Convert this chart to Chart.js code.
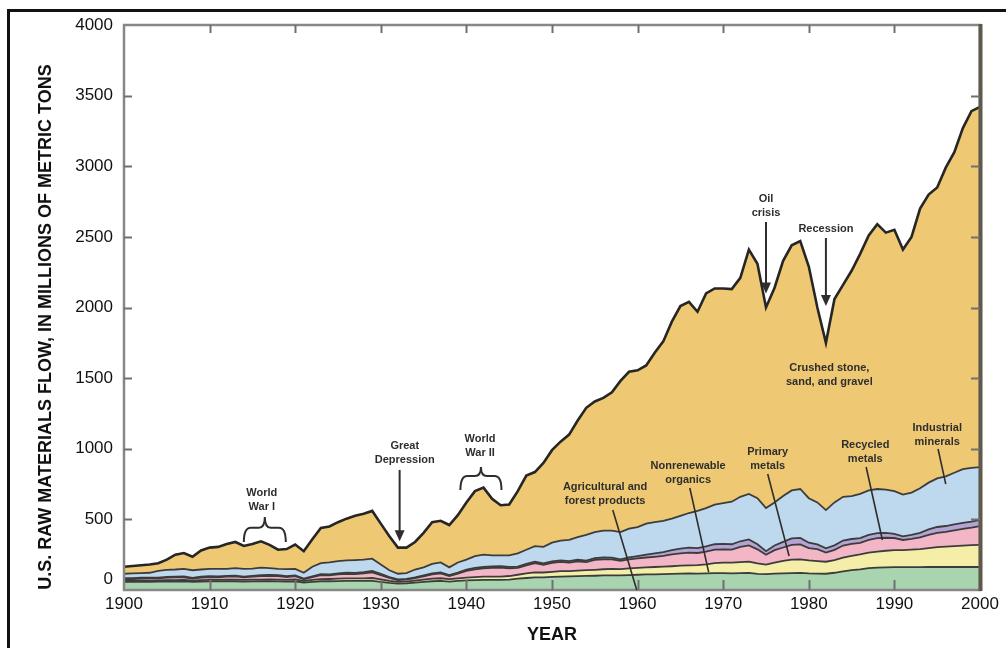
<!DOCTYPE html>
<html>
<head>
<meta charset="utf-8">
<title>U.S. raw materials flow, 1900-2000</title>
<script src="https://cdn.jsdelivr.net/npm/chart.js@4.4.1/dist/chart.umd.min.js"></script>
<style>
  html, body { margin: 0; padding: 0; background: #ffffff; }
  canvas { display: block; }
</style>
</head>
<body>
<canvas id="flowChart" width="1006" height="648"></canvas>
<script>
// Years on the x axis (one point per year)
const years = [
    1900, 1901, 1902, 1903, 1904, 1905, 1906, 1907, 1908, 1909,
    1910, 1911, 1912, 1913, 1914, 1915, 1916, 1917, 1918, 1919,
    1920, 1921, 1922, 1923, 1924, 1925, 1926, 1927, 1928, 1929,
    1930, 1931, 1932, 1933, 1934, 1935, 1936, 1937, 1938, 1939,
    1940, 1941, 1942, 1943, 1944, 1945, 1946, 1947, 1948, 1949,
    1950, 1951, 1952, 1953, 1954, 1955, 1956, 1957, 1958, 1959,
    1960, 1961, 1962, 1963, 1964, 1965, 1966, 1967, 1968, 1969,
    1970, 1971, 1972, 1973, 1974, 1975, 1976, 1977, 1978, 1979,
    1980, 1981, 1982, 1983, 1984, 1985, 1986, 1987, 1988, 1989,
    1990, 1991, 1992, 1993, 1994, 1995, 1996, 1997, 1998, 1999,
    2000,
];

// Millions of metric tons, stacked from the bottom up
const agricultural = [
    57, 57, 58, 58, 59, 60, 60, 61, 58, 60,
    61, 61, 62, 62, 60, 61, 62, 62, 61, 60,
    62, 52, 58, 62, 62, 63, 64, 64, 64, 65,
    58, 50, 45, 47, 52, 57, 62, 64, 60, 64,
    68, 70, 72, 72, 72, 74, 80, 85, 90, 90,
    93, 95, 96, 98, 100, 101, 103, 104, 103, 106,
    108, 110, 111, 112, 114, 116, 118, 116, 118, 120,
    120, 118, 120, 121, 114, 112, 116, 118, 120, 121,
    117, 116, 115, 122, 132, 140, 146, 155, 158, 160,
    162, 162, 162, 162, 163, 163, 163, 163, 163, 163,
    163,
];
const nonrenewable = [
    8, 8, 8, 9, 9, 9, 10, 10, 9, 10,
    11, 11, 11, 12, 11, 12, 12, 13, 13, 12,
    13, 11, 13, 15, 16, 17, 18, 18, 19, 20,
    18, 15, 13, 13, 14, 16, 18, 19, 17, 19,
    20, 21, 22, 22, 23, 25, 28, 32, 35, 34,
    36, 38, 38, 39, 40, 42, 44, 45, 45, 47,
    48, 50, 52, 53, 54, 56, 57, 60, 64, 70,
    74, 76, 78, 80, 74, 68, 78, 88, 95, 96,
    92, 88, 85, 90, 98, 102, 106, 110, 114, 118,
    120, 121, 124, 128, 134, 140, 144, 147, 151, 154,
    156,
];
const primaryMetals = [
    13, 13, 15, 15, 14, 18, 19, 19, 14, 18,
    20, 18, 21, 22, 18, 21, 25, 26, 25, 20,
    23, 12, 20, 28, 26, 30, 32, 31, 35, 40,
    30, 20, 12, 14, 18, 24, 30, 34, 22, 32,
    47, 55, 60, 63, 63, 55, 48, 58, 65, 55,
    63, 66, 60, 66, 58, 70, 70, 68, 58, 64,
    68, 70, 72, 76, 84, 88, 90, 86, 90, 96,
    94, 92, 107, 115, 100, 70, 88, 95, 105, 106,
    88, 85, 65, 72, 85, 84, 82, 90, 95, 92,
    86, 71, 76, 82, 94, 101, 104, 112, 118, 124,
    134,
];
const recycledMetals = [
    6, 6, 6, 6, 6, 6, 6, 6, 5, 6,
    6, 6, 6, 6, 5, 6, 6, 6, 6, 6,
    6, 5, 6, 7, 7, 8, 8, 8, 9, 10,
    8, 6, 5, 5, 6, 7, 8, 8, 7, 8,
    10, 10, 10, 10, 10, 10, 10, 10, 10, 10,
    10, 11, 10, 11, 10, 12, 13, 12, 11, 14,
    16, 20, 24, 27, 30, 33, 35, 34, 36, 38,
    38, 38, 40, 42, 36, 25, 33, 40, 45, 46,
    38, 34, 30, 32, 35, 35, 34, 35, 36, 34,
    30, 26, 28, 32, 38, 42, 42, 42, 43, 43,
    43,
];
const industrialMinerals = [
    31, 34, 33, 34, 47, 49, 50, 54, 54, 51,
    52, 54, 50, 53, 56, 52, 53, 48, 45, 50,
    46, 42, 68, 78, 84, 87, 88, 91, 88, 87,
    66, 49, 40, 41, 55, 56, 67, 70, 54, 72,
    70, 84, 86, 78, 77, 81, 94, 100, 110, 116,
    133, 140, 151, 161, 182, 185, 190, 191, 193, 204,
    205, 220, 221, 222, 223, 232, 245, 264, 272, 281,
    289, 301, 315, 322, 326, 305, 305, 324, 340, 346,
    315, 297, 271, 304, 310, 304, 312, 315, 312, 306,
    302, 295, 300, 316, 331, 344, 352, 366, 380, 381,
    374,
];
const crushedStone = [
    50, 52, 55, 58, 55, 73, 105, 112, 95, 135,
    150, 155, 175, 185, 162, 173, 187, 165, 135, 142,
    172, 153, 195, 250, 255, 275, 295, 313, 325, 338,
    290, 240, 185, 180, 195, 245, 295, 295, 300, 335,
    405, 460, 475, 400, 355, 360, 440, 525, 525, 595,
    655, 700, 745, 825, 900, 925, 940, 980, 1070, 1110,
    1110, 1120, 1200, 1270, 1395, 1485, 1495, 1410, 1520, 1530,
    1520, 1505, 1550, 1730, 1660, 1420, 1520, 1665, 1735, 1755,
    1640, 1380, 1184, 1440, 1500, 1595, 1700, 1805, 1875, 1820,
    1850, 1735, 1810, 1980, 2040, 2060, 2185, 2270, 2415, 2525,
    2550,
];

// Tick labels
const yearTicks = [1900, 1910, 1920, 1930, 1940, 1950, 1960, 1970, 1980, 1990, 2000];
const tonTicks = [0, 500, 1000, 1500, 2000, 2500, 3000, 3500, 4000];

const TICK_FONT = { family: '"Liberation Sans", Arial, sans-serif', size: 17 };
const NOTE_FONT = 'bold 11px "Liberation Sans", Arial, sans-serif';
const TITLE_FONT = 'bold 18px "Liberation Sans", Arial, sans-serif';
const INK = '#2e2e2e';

// Call-outs, placed in data units (year, value)
const labelNotes = [
    { year: 1916.1, value: 687, lines: ['World', 'War I'] },
    { year: 1932.8, value: 1019, lines: ['Great', 'Depression'] },
    { year: 1941.6, value: 1069, lines: ['World', 'War II'] },
    { year: 1956.2, value: 729, lines: ['Agricultural and', 'forest products'] },
    { year: 1965.9, value: 878, lines: ['Nonrenewable', 'organics'] },
    { year: 1975.2, value: 977, lines: ['Primary', 'metals'] },
    { year: 1986.6, value: 1027, lines: ['Recycled', 'metals'] },
    { year: 1995.0, value: 1147, lines: ['Industrial', 'minerals'] },
    { year: 1975.0, value: 2768, lines: ['Oil', 'crisis'] },
    { year: 1982.0, value: 2556, lines: ['Recession'] },
    { year: 1982.4, value: 1572, lines: ['Crushed stone,', 'sand, and gravel'] },
];
const leaderLines = [
    { from: [1957.1, 566], to: [1959.9, 0] },
    { from: [1966.1, 722], to: [1968.3, 127] },
    { from: [1975.2, 821], to: [1977.7, 241] },
    { from: [1986.7, 871], to: [1988.6, 354] },
    { from: [1995.1, 998], to: [1996.0, 750] },
];
const arrows = [
    { year: 1932.2, from: 850, to: 345 },
    { year: 1975.0, from: 2605, to: 2100 },
    { year: 1982.0, from: 2492, to: 2010 },
];
const braces = [
    { left: 1914.0, right: 1918.9, end: 340, mid: 440, tip: 517 },
    { left: 1939.3, right: 1944.1, end: 708, mid: 807, tip: 871 },
];

function layer(label, data, color, fill, width) {
    return {
        label,
        data,
        backgroundColor: color,
        borderColor: width > 2 ? '#262626' : '#3c3c3c',
        borderWidth: width,
        fill,
        pointRadius: 0,
        tension: 0,
    };
}

const annotationPlugin = {
    id: 'flowAnnotations',
    afterDraw(chart) {
        const { ctx, chartArea: area, scales } = chart;
        const xs = scales.x;
        const ys = scales.y;
        const px = (year) => xs.getPixelForValue(year - years[0]);
        const py = (value) => ys.getPixelForValue(value);

        ctx.save();

        // plot box
        ctx.strokeStyle = '#878787';
        ctx.lineWidth = 2.5;
        ctx.strokeRect(area.left, area.top, area.right - area.left, area.bottom - area.top);
        ctx.strokeStyle = '#5f584c';
        ctx.lineWidth = 4;
        ctx.beginPath();
        ctx.moveTo(area.right + 0.5, area.top - 1);
        ctx.lineTo(area.right + 0.5, area.bottom + 1);
        ctx.stroke();

        // inner tick marks
        ctx.strokeStyle = '#707070';
        ctx.lineWidth = 2;
        ctx.beginPath();
        tonTicks.slice(1, -1).forEach((v) => {
            const y = Math.round(py(v)) + 0.5;
            ctx.moveTo(area.left, y);
            ctx.lineTo(area.left + 8, y);
            ctx.moveTo(area.right - 9, y);
            ctx.lineTo(area.right, y);
        });
        yearTicks.slice(1, -1).forEach((yr) => {
            const x = Math.round(px(yr)) + 0.5;
            ctx.moveTo(x, area.top);
            ctx.lineTo(x, area.top + 8);
            ctx.moveTo(x, area.bottom);
            ctx.lineTo(x, area.bottom - 10);
        });
        ctx.stroke();

        // the zero label sits a little above the axis
        ctx.fillStyle = '#111';
        ctx.font = `${TICK_FONT.size}px ${TICK_FONT.family}`;
        ctx.textAlign = 'right';
        ctx.textBaseline = 'middle';
        ctx.fillText(String(tonTicks[0]), area.left - 11, py(tonTicks[0]) - 11);

        // axis titles
        ctx.font = TITLE_FONT;
        ctx.textAlign = 'center';
        ctx.fillText('YEAR', (area.left + area.right) / 2, 635);
        ctx.save();
        ctx.translate(46, 327);
        ctx.rotate(-Math.PI / 2);
        ctx.fillText('U.S. RAW MATERIALS FLOW, IN MILLIONS OF METRIC TONS', 0, 0);
        ctx.restore();

        // call-out text
        ctx.fillStyle = INK;
        ctx.font = NOTE_FONT;
        labelNotes.forEach((note) => {
            note.lines.forEach((line, i) => {
                ctx.fillText(line, px(note.year), py(note.value) + i * 14);
            });
        });

        ctx.strokeStyle = INK;
        ctx.lineWidth = 1.6;
        ctx.beginPath();
        leaderLines.forEach((l) => {
            ctx.moveTo(px(l.from[0]), py(l.from[1]));
            ctx.lineTo(px(l.to[0]), py(l.to[1]));
        });
        ctx.stroke();

        // arrows
        ctx.lineWidth = 2;
        arrows.forEach((a) => {
            const x = px(a.year);
            const y1 = py(a.from);
            const y2 = py(a.to);
            ctx.beginPath();
            ctx.moveTo(x, y1);
            ctx.lineTo(x, y2 - 9);
            ctx.stroke();
            ctx.beginPath();
            ctx.moveTo(x - 5, y2 - 11);
            ctx.lineTo(x + 5, y2 - 11);
            ctx.lineTo(x, y2);
            ctx.closePath();
            ctx.fill();
        });

        // braces
        ctx.lineWidth = 2;
        braces.forEach((b) => {
            const l = px(b.left);
            const r = px(b.right);
            const c = (l + r) / 2;
            const yEnd = py(b.end);
            const yMid = py(b.mid);
            const yTip = py(b.tip);
            ctx.beginPath();
            ctx.moveTo(l, yEnd);
            ctx.quadraticCurveTo(l, yMid, l + 7, yMid);
            ctx.lineTo(c - 6, yMid);
            ctx.quadraticCurveTo(c, yMid, c, yTip);
            ctx.moveTo(r, yEnd);
            ctx.quadraticCurveTo(r, yMid, r - 7, yMid);
            ctx.lineTo(c + 6, yMid);
            ctx.quadraticCurveTo(c, yMid, c, yTip);
            ctx.stroke();
        });

        // outer frame
        ctx.strokeStyle = '#111';
        ctx.lineWidth = 3;
        ctx.strokeRect(8.5, 10.5, 1200, 1000);

        ctx.restore();
    },
};

new Chart(document.getElementById('flowChart'), {
    type: 'line',
    data: {
        labels: years,
        datasets: [
            layer('Agricultural and forest products', agricultural, '#a8d4b0', 'origin', 1.8),
            layer('Nonrenewable organics', nonrenewable, '#f5eea9', '-1', 1.8),
            layer('Primary metals', primaryMetals, '#f2b6c6', '-1', 1.8),
            layer('Recycled metals', recycledMetals, '#b4a4d4', '-1', 1.8),
            layer('Industrial minerals', industrialMinerals, '#bed9ed', '-1', 1.8),
            layer('Crushed stone, sand, and gravel', crushedStone, '#eec872', '-1', 2.6),
        ],
    },
    options: {
        responsive: false,
        animation: false,
        devicePixelRatio: 1,
        layout: { padding: { top: 25, right: 26, left: 0, bottom: 0 } },
        plugins: {
            legend: { display: false },
            tooltip: { enabled: false },
        },
        scales: {
            x: {
                type: 'category',
                offset: false,
                grid: { display: false, drawTicks: false },
                border: { display: false },
                afterBuildTicks: (scale) => {
                    scale.ticks = yearTicks.map((yr) => ({ value: years.indexOf(yr) }));
                },
                afterFit: (scale) => {
                    scale.height = 58;
                },
                ticks: {
                    autoSkip: false,
                    maxRotation: 0,
                    padding: 4,
                    color: '#111',
                    font: TICK_FONT,
                    callback: (value) => String(years[value]),
                },
            },
            y: {
                stacked: true,
                min: 0,
                max: 4000,
                grid: { display: false, drawTicks: false },
                border: { display: false },
                afterBuildTicks: (scale) => {
                    scale.ticks = tonTicks.map((v) => ({ value: v }));
                },
                afterFit: (scale) => {
                    scale.width = 124;
                },
                ticks: {
                    padding: 11,
                    color: '#111',
                    font: TICK_FONT,
                    callback: (value) => (value === 0 ? '' : String(value)),
                },
            },
        },
    },
    plugins: [annotationPlugin],
});
</script>
</body>
</html>
